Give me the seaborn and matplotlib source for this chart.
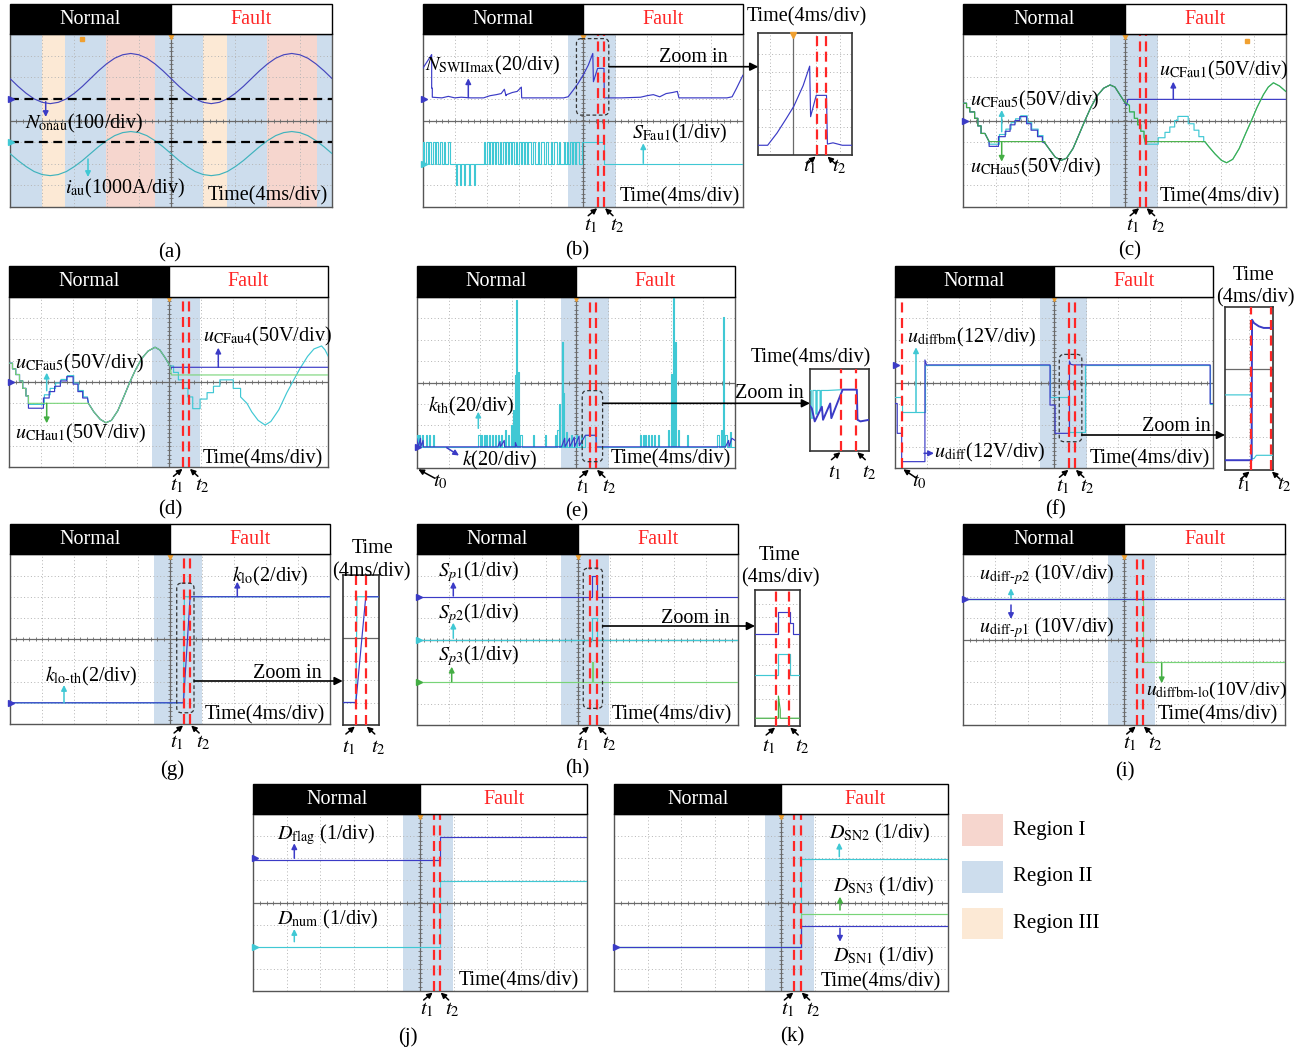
"""
Oscilloscope waveforms (a)-(k): normal / fault transition with zoom insets
"""

import numpy as np
import matplotlib
matplotlib.use('Agg')
import matplotlib.pyplot as plt
import seaborn as sns
from matplotlib.patches import Rectangle, FancyBboxPatch

W, H = 1313, 1053
FS = 14.5

BLUE = '#3b3bc6'
CYAN = '#40c8d4'
GREEN = '#44ae44'
LGREEN = '#78d478'
RED = '#ff2626'
REGION_COLORS = {'I': '#f6d6ce', 'II': '#cddded', 'III': '#fce9d5'}

# ------------------------------------------------------------------
# Data, in scope divisions (x: 0..10 div, y: -4..4 div); insets 0..1
# ------------------------------------------------------------------
# (a)
a_t = np.linspace(0, 10, 41)
a_nonau = [1.94, 1.58, 1.26, 1.00, 0.84, 0.78, 0.84, 1.00, 1.26, 1.58,
           1.94, 2.30, 2.62, 2.88, 3.04, 3.10, 3.04, 2.88, 2.62, 2.30,
           1.94, 1.58, 1.26, 1.00, 0.84, 0.78, 0.84, 1.00, 1.26, 1.58,
           1.94, 2.30, 2.62, 2.88, 3.04, 3.10, 3.04, 2.88, 2.62, 2.30, 1.94]
a_iau = [-1.53, -1.85, -2.13, -2.36, -2.50, -2.55, -2.50, -2.36, -2.13, -1.85,
         -1.53, -1.21, -0.93, -0.70, -0.56, -0.51, -0.56, -0.70, -0.93, -1.21,
         -1.53, -1.85, -2.13, -2.36, -2.50, -2.55, -2.50, -2.36, -2.13, -1.85,
         -1.53, -1.21, -0.93, -0.70, -0.56, -0.51, -0.56, -0.70, -0.93, -1.21, -1.53]
a_ref = [1.0, -1.0]
a_reg_start = [0, 0.98, 1.71, 2.98, 4.5, 6.0, 6.74, 7.98, 9.53]
a_reg_end = [0.98, 1.71, 2.98, 4.5, 6.0, 6.74, 7.98, 9.53, 10]
a_reg_kind = ['II', 'III', 'II', 'I', 'II', 'III', 'II', 'I', 'II']

# (b)
b_band, b_t = (4.54, 6.04), (5.48, 5.66)
b_nswii = [(0.0, 2.41), (0.28, 3.06), (0.28, 1.5), (0.30, 1.5), (0.30, 1.08), (0.6, 1.05),
           (0.8, 1.12), (1.0, 1.05), (1.2, 1.08), (1.5, 1.05), (1.9, 1.05), (2.1, 1.15),
           (2.3, 1.2), (2.45, 1.25), (2.55, 1.45), (2.6, 1.15), (2.62, 1.2), (2.8, 1.3),
           (2.95, 1.35), (3.08, 1.55), (3.09, 1.05), (3.5, 1.05), (4.0, 1.05), (4.4, 1.05),
           (4.54, 1.10), (4.70, 1.41), (4.85, 1.72), (5.01, 2.11), (5.17, 2.57), (5.31, 3.11),
           (5.33, 1.8), (5.46, 2.42), (5.66, 2.42), (5.67, 1.05), (6.2, 1.05), (6.8, 1.08),
           (7.0, 1.15), (7.2, 1.2), (7.4, 1.1), (7.6, 1.25), (7.8, 1.3), (7.95, 1.35),
           (8.0, 1.05), (8.5, 1.05), (9.0, 1.05), (9.5, 1.05), (9.66, 1.1), (9.8, 1.5), (10.0, 2.11)]
b_sfau_start = [0.0, 0.1, 0.2, 0.32, 0.42, 0.55, 0.65, 0.78, 1.9, 2.0, 2.1, 2.2,
                2.3, 2.42, 2.5, 2.6, 2.7, 2.8, 2.9, 3.0, 3.1, 3.2, 3.3, 3.45,
                3.6, 3.7, 3.85, 4.0, 4.1, 4.25, 4.4, 4.5, 4.6, 4.7, 4.8, 4.97]
b_sfau_end = [0.05, 0.15, 0.26, 0.37, 0.48, 0.6, 0.7, 0.85, 1.95, 2.06, 2.15, 2.26,
              2.36, 2.46, 2.56, 2.66, 2.75, 2.86, 2.95, 3.06, 3.15, 3.26, 3.38, 3.52,
              3.64, 3.78, 3.9, 4.05, 4.18, 4.3, 4.45, 4.55, 4.65, 4.75, 4.88, 5.65]
b_sfau_dip = [1.03, 1.17, 1.29, 1.45, 1.6]
bz_nswii = [(0.0, 0.08), (0.1, 0.08), (0.2, 0.18), (0.3, 0.30), (0.38, 0.40), (0.48, 0.57),
            (0.55, 0.73), (0.56, 0.315), (0.62, 0.49), (0.73, 0.49), (0.74, 0.09),
            (0.8, 0.10), (0.9, 0.08), (1.0, 0.08)]
bz_t = (0.625, 0.73)

# (c)
c_band, c_t = (4.55, 6.02), (5.48, 5.65)
c_pre = [(0, 0.8), (0.1, 0.8), (0.1, 0.6), (0.2, 0.6), (0.2, 0.4), (0.35, 0.4), (0.35, 0.1),
         (0.45, 0.1), (0.45, -0.25), (0.55, -0.25), (0.55, -0.6), (0.67, -0.6)]
c_green_mid = [(0.8, -0.98), (2.53, -0.98)]
c_blue_mid = [(0.8, -0.98), (0.8, -1.2), (1.09, -1.2), (1.09, -0.75), (1.3, -0.75), (1.3, -0.5),
              (1.45, -0.5), (1.45, -0.2), (1.6, -0.2), (1.6, 0.0), (1.75, 0.0), (1.75, 0.18),
              (1.96, 0.18), (1.96, -0.15), (2.1, -0.15), (2.1, -0.45), (2.3, -0.45),
              (2.3, -0.75), (2.45, -0.75), (2.45, -1.0), (2.53, -1.05)]
c_cyan_mid = [(0.8, -0.98), (0.8, -1.1), (1.12, -1.1), (1.12, -0.65), (1.32, -0.65), (1.32, -0.4),
              (1.48, -0.4), (1.48, -0.1), (1.62, -0.1), (1.62, 0.08), (1.78, 0.08), (1.78, 0.22),
              (1.98, 0.22), (1.98, -0.1), (2.12, -0.1), (2.12, -0.4), (2.32, -0.4),
              (2.32, -0.7), (2.47, -0.7), (2.47, -0.95), (2.53, -1.05)]
c_sine1 = [(2.53, -1.05), (2.7, -1.4), (2.85, -1.7), (3.03, -1.85), (3.2, -1.75), (3.4, -1.3),
           (3.6, -0.6), (3.77, 0.0), (3.95, 0.6), (4.15, 1.15), (4.35, 1.5), (4.55, 1.65),
           (4.7, 1.55), (4.85, 1.2), (5.0, 0.85)]
c_blue_post = [(5.06, 0.7), (5.1, 0.98), (10, 0.98)]
c_fall = [(5.15, 0.7), (5.15, 0.4), (5.3, 0.4), (5.3, 0.1), (5.4, 0.1), (5.4, -0.2), (5.5, -0.2),
          (5.5, -0.5), (5.6, -0.5), (5.6, -0.75), (5.63, -0.98)]
c_green_hold = [(7.49, -0.98)]
c_cyan_stairs = [(5.63, -1.1), (6.04, -1.1), (6.04, -0.8), (6.25, -0.8), (6.25, -0.55),
                 (6.4, -0.55), (6.4, -0.3), (6.55, -0.3), (6.55, 0.0), (6.65, 0.0), (6.65, 0.19),
                 (6.97, 0.19), (6.97, -0.15), (7.15, -0.15), (7.15, -0.45), (7.3, -0.45),
                 (7.3, -0.75), (7.45, -0.75), (7.45, -0.98), (7.49, -1.0)]
c_sine2 = [(7.6, -1.2), (7.8, -1.55), (8.0, -1.85), (8.16, -1.96), (8.35, -1.8), (8.55, -1.3),
           (8.75, -0.6), (8.93, 0.0), (9.1, 0.6), (9.3, 1.2), (9.45, 1.55), (9.61, 1.75),
           (9.8, 1.6), (10, 1.34)]

# (d)
d_band, d_t = (4.48, 5.98), (5.46, 5.63)
d_pre = [(0, 0.88), (0.1, 0.88), (0.1, 0.62), (0.2, 0.62), (0.2, 0.35), (0.32, 0.35), (0.32, 0.05),
         (0.42, 0.05), (0.42, -0.3), (0.52, -0.3), (0.52, -0.65), (0.6, -0.65)]
d_green_mid = [(0.6, -1.0), (2.48, -1.0)]
d_blue_mid = [(0.6, -1.23), (1.07, -1.23), (1.07, -0.75), (1.25, -0.75), (1.25, -0.45), (1.42, -0.45),
              (1.42, -0.2), (1.6, -0.2), (1.6, 0.05), (1.8, 0.05), (1.8, 0.25), (2.0, 0.25),
              (2.0, -0.1), (2.15, -0.1), (2.15, -0.45), (2.3, -0.45), (2.3, -0.75), (2.45, -0.75),
              (2.48, -1.0)]
d_cyan_mid = [(0.6, -1.05), (1.1, -1.05), (1.1, -0.6), (1.28, -0.6), (1.28, -0.3), (1.45, -0.3),
              (1.45, -0.05), (1.62, -0.05), (1.62, 0.12), (1.82, 0.12), (1.82, 0.3), (2.02, 0.3),
              (2.02, -0.05), (2.17, -0.05), (2.17, -0.4), (2.32, -0.4), (2.32, -0.7), (2.45, -0.7),
              (2.48, -1.0)]
d_sine = [(2.48, -1.0), (2.65, -1.4), (2.85, -1.75), (3.03, -1.91), (3.2, -1.8), (3.4, -1.35),
          (3.6, -0.65), (3.78, 0.0), (3.95, 0.55), (4.15, 1.1), (4.35, 1.45), (4.57, 1.63),
          (4.72, 1.5), (4.88, 1.15), (5.04, 0.75)]
d_blue_post = [(5.06, 0.6), (5.08, 0.69), (10, 0.69)]
d_green_post = [(5.08, 0.33), (10, 0.33)]
d_cyan_post = [(5.15, 0.75), (5.15, 0.45), (5.3, 0.45), (5.3, 0.1), (5.45, 0.1), (5.45, -0.3),
               (5.6, -0.3), (5.6, -0.7), (5.75, -0.7), (5.75, -1.25), (5.98, -1.25), (5.98, -0.8),
               (6.2, -0.8), (6.2, -0.5), (6.4, -0.5), (6.4, -0.2), (6.6, -0.2), (6.6, 0.1),
               (7.02, 0.1), (7.02, -0.3), (7.25, -0.3), (7.25, -0.7), (7.45, -1.0), (7.6, -1.4),
               (7.8, -1.8), (8.02, -2.02), (8.2, -1.85), (8.45, -1.3), (8.7, -0.5), (8.9, 0.05),
               (9.1, 0.6), (9.35, 1.2), (9.55, 1.55), (9.79, 1.69), (9.9, 1.5), (10, 1.2)]

# (e)
e_band, e_t = (4.53, 6.04), (5.44, 5.63)
e_k = [(0, -2.6), (0.05, -3.0), (0.12, -2.6), (0.13, -3.0), (0.2, -2.7), (0.21, -3.0),
       (2.55, -3.0), (2.62, -2.75), (2.63, -3.0), (2.75, -2.7), (2.76, -3.0), (3.1, -3.0),
       (3.1, -2.8), (3.15, -3.0), (4.55, -3.0), (4.65, -2.6), (4.66, -3.0), (4.8, -2.6),
       (4.81, -3.0), (4.95, -2.55), (4.96, -3.0), (5.1, -2.5), (5.11, -2.95), (5.3, -2.46),
       (5.63, -2.46), (5.64, -3.0), (9.7, -3.0), (9.8, -2.7), (9.81, -3.0), (9.9, -2.6),
       (10, -2.7)]
e_kth_x = [0.0, 0.08, 0.16, 0.28, 0.38, 0.5,
           1.94, 2.02, 2.1, 2.18, 2.27, 2.36, 2.45, 2.55, 2.66, 2.76, 2.86, 2.95,
           3.02, 3.08, 3.12, 3.18, 3.26,
           3.66, 4.03,
           4.34, 4.42, 4.48, 4.55, 4.6, 4.7, 4.85, 5.0, 5.15,
           7.02, 7.1, 7.18, 7.27, 7.36, 7.45, 7.59,
           7.9, 8.0, 8.06, 8.12, 8.2,
           8.48,
           9.45, 9.55, 9.63, 9.7, 9.84]
e_kth_top = [-2.46, -2.46, -2.46, -2.46, -2.46, -2.46,
             -2.46, -2.46, -2.46, -2.46, -2.46, -2.46, -2.46, -2.46, -2.46, -2.2, -2.46, -2.0,
             -1.3, 0.35, 3.85, 0.5, -2.46,
             -2.46, -2.46,
             -2.46, -2.2, -1.0, 1.9, -0.5, -2.3, -2.46, -2.46, -2.46,
             -2.46, -2.46, -2.46, -2.46, -2.46, -2.46, -2.46,
             -2.2, 0.4, 3.93, 1.9, -2.2,
             -2.46,
             -2.46, -2.2, 3.07, -2.46, -2.3]
e_kth_hold = (5.3, 5.63, -2.46)
ez_k = [(0, 0.55), (0.03, 0.52), (0.08, 0.36), (0.2, 0.54), (0.22, 0.38), (0.34, 0.58),
        (0.36, 0.40), (0.55, 0.75), (0.79, 0.75), (0.80, 0.38), (0.85, 0.36), (1.0, 0.38)]
ez_kth = [(0, 0.74), (0.02, 0.74), (0.02, 0.4), (0.05, 0.4), (0.05, 0.74), (0.1, 0.74),
          (0.1, 0.45), (0.12, 0.45), (0.12, 0.74), (0.17, 0.74), (0.17, 0.5), (0.19, 0.5),
          (0.19, 0.74), (0.3, 0.74), (0.55, 0.75)]
ez_t = (0.53, 0.78)

# (f)
f_band, f_t, f_t0 = (4.56, 6.02), (5.48, 5.65), 0.23
f_udiff = [(0, -0.98), (0.07, -0.98), (0.07, -2.37), (0.21, -2.37), (0.21, -3.69), (0.94, -3.69),
           (0.94, 1.05), (0.99, 0.82), (4.87, 0.82), (4.87, -1.05), (5.03, -1.05), (5.03, -2.37),
           (5.48, -2.37), (5.48, 1.0), (5.52, 0.85), (5.6, 0.82), (9.9, 0.82), (9.9, -0.98),
           (10, -0.98)]
f_udiffbm = [(0, -0.66), (0.21, -0.66), (0.21, -1.36), (0.94, -1.36), (0.94, 0.82), (4.87, 0.82),
             (4.87, -0.66), (5.48, -0.66), (5.48, -2.3), (5.97, -2.3), (5.97, 0.82), (9.9, 0.82),
             (9.9, -0.98), (10, -0.98)]
fz_udiff = [(0, 0.06), (0.55, 0.06), (0.56, 0.92), (0.6, 0.90), (0.7, 0.88), (0.8, 0.87), (1.0, 0.87)]
fz_udiffbm = [(0, 0.46), (0.55, 0.46), (0.56, 0.07), (0.6, 0.07), (0.65, 0.09), (1.0, 0.09)]
fz_t = (0.53, 0.95)

# (g)
g_band, g_t = (4.5, 6.01), (5.44, 5.63)
g_klo = [(0, -3.0), (5.42, -3.0), (5.63, 2.0), (10, 2.0)]
g_klo_th = [(0, -3.0), (5.42, -3.0), (5.45, 2.0), (10, 2.0)]
gz_klo = [(0, 0.15), (0.36, 0.15), (0.63, 0.855), (1.0, 0.855)]
gz_klo_th = [(0, 0.15), (0.36, 0.15), (0.39, 0.855), (1.0, 0.855)]
gz_t = (0.36, 0.63)

# (h)
h_band, h_t = (4.48, 5.97), (5.38, 5.59)
h_sp1 = [(0, 2.0), (5.43, 2.0), (5.43, 3.0), (5.59, 3.0), (5.59, 2.0), (10, 2.0)]
h_sp2 = [(0, 0.0), (5.43, 0.0), (5.43, 1.0), (5.61, 1.0), (5.61, 0.0), (10, 0.0)]
h_sp3 = [(0, -2.0), (5.43, -2.0), (5.43, -1.03), (5.47, -1.03), (5.47, -2.0), (10, -2.0)]
hz_sp1 = [(0, 0.68), (0.52, 0.68), (0.52, 0.84), (0.78, 0.84), (0.78, 0.76), (0.84, 0.76),
          (0.84, 0.68), (1.0, 0.68)]
hz_sp2 = [(0, 0.375), (0.52, 0.375), (0.52, 0.53), (0.78, 0.53), (0.78, 0.375), (1.0, 0.375)]
hz_sp3 = [(0, 0.057), (0.52, 0.057), (0.52, 0.22), (0.56, 0.12), (0.56, 0.057), (1.0, 0.057)]
hz_t = (0.47, 0.76)

# (i)
i_band, i_t = (4.49, 5.96), (5.39, 5.58)
i_p1 = [(0, 1.9), (10, 1.9)]
i_p2 = [(0, 1.9), (10, 1.9)]
i_bmlo = [(0, 1.9), (5.6, 1.9), (5.6, -1.03), (10, -1.03)]

# (j)
j_band, j_t = (4.49, 5.99), (5.40, 5.58)
j_flag = [(0, 1.92), (5.58, 1.92), (5.58, 2.95), (10, 2.95)]
j_num = [(0, -2.0), (5.58, -2.0), (5.58, 0.99), (10, 0.99)]

# (k)
k_band, k_t = (4.51, 5.99), (5.39, 5.58)
k_sn1 = [(0, -2.03), (5.58, -2.03), (5.58, -1.05), (10, -1.05)]
k_sn2 = [(0, -2.03), (5.58, -2.03), (5.58, 1.97), (10, 1.97)]
k_sn3 = [(0, -2.03), (5.58, -2.03), (5.58, -0.54), (10, -0.54)]

# ------------------------------------------------------------------
# Layout (pixel boxes x0, y0, x1, y1 of the screens)
# ------------------------------------------------------------------
RECT = {
    'a': (10, 34, 332, 207), 'b': (422.7, 34.3, 743, 206.7), 'c': (963.3, 34.3, 1286, 206.7),
    'd': (9.3, 296.7, 328.3, 467.3), 'e': (416.7, 296.7, 735, 468.3), 'f': (895, 296.7, 1213.3, 468.3),
    'g': (10, 554.3, 330, 724), 'h': (417.3, 554.3, 738.3, 725), 'i': (963.3, 554.3, 1285, 725),
    'j': (253.3, 814, 587.3, 991), 'k': (614.3, 814, 948.3, 991),
}
INSET = {
    'b': (758.3, 33.3, 851.7, 155), 'e': (810, 369.3, 869.3, 450.7), 'f': (1225, 306.7, 1273.3, 470),
    'g': (342.7, 575, 379.3, 725), 'h': (755, 590, 800, 726),
}

sns.set_theme(style='white')
plt.rcParams['font.family'] = ['Liberation Serif', 'DejaVu Serif']
plt.rcParams['mathtext.fontset'] = 'stix'

fig = plt.figure(figsize=(W / 100, H / 100), dpi=100)
ov = fig.add_axes([0, 0, 1, 1], zorder=10)
ov.set_xlim(0, W)
ov.set_ylim(H, 0)
ov.axis('off')


def add_px_axes(rect, z=1):
    x0, y0, x1, y1 = rect
    return fig.add_axes([x0 / W, 1 - y1 / H, (x1 - x0) / W, (y1 - y0) / H], zorder=z)


def trace(ax, pts, color, lw=0.85, z=3):
    xs, ys = zip(*pts)
    sns.lineplot(x=list(xs), y=list(ys), ax=ax, color=color, linewidth=lw,
                 estimator=None, sort=False, zorder=z, legend=False)


def pulse_train(starts, ends, levels, base):
    pts = [(0.0, base)]
    for s, e, lv in sorted(zip(starts, ends, levels)):
        pts += [(s, base), (s, lv), (e, lv), (e, base)]
    pts.append((10.0, base))
    return pts


def scope(key, band=None, marks=()):
    ax = add_px_axes(RECT[key])
    ax.set_xlim(0, 10)
    ax.set_ylim(-4, 4)
    if band is not None:
        ax.axvspan(band[0], band[1], color=REGION_COLORS['II'], lw=0, zorder=0)
    for v in range(1, 10):
        if v != 5:
            ax.axvline(v, color='#b4b4b4', lw=0.7, ls=(0, (1, 2.5)), zorder=0.5)
    for h in range(-3, 4):
        if h != 0:
            ax.axhline(h, color='#b4b4b4', lw=0.7, ls=(0, (1, 2.5)), zorder=0.5)
    ax.axvline(5, color='#6a6a6a', lw=0.9, zorder=0.6)
    ax.axhline(0, color='#6a6a6a', lw=0.9, zorder=0.6)
    tk = np.arange(0.2, 10, 0.2)
    ax.plot(tk, np.zeros_like(tk), ls='none', marker='|', ms=3.5, mew=0.6, color='#6a6a6a', zorder=0.6)
    tk = np.arange(-3.8, 4, 0.2)
    ax.plot(np.full_like(tk, 5), tk, ls='none', marker='_', ms=3.5, mew=0.6, color='#6a6a6a', zorder=0.6)
    ax.plot([5], [3.93], marker='v', color='#f0a030', ms=4, zorder=6, clip_on=False)
    for lvl, col in marks:
        ax.plot([0.04], [lvl], marker='>', color=col, ms=5, zorder=6, clip_on=False)
    ax.set_xticks([])
    ax.set_yticks([])
    for sp in ax.spines.values():
        sp.set_color('#555555')
        sp.set_linewidth(1.0)
    # header bar
    x0, y0, x1, y1 = RECT[key]
    mid, hy = (x0 + x1) / 2, y0 - 30.5
    ov.add_patch(Rectangle((x0, hy), mid - x0, 30.5, fc='black', ec='black', lw=1))
    ov.add_patch(Rectangle((mid, hy), x1 - mid, 30.5, fc='white', ec='black', lw=1))
    ov.text((x0 + mid) / 2, hy + 15.5, 'Normal', color='white', ha='center', va='center', fontsize=FS)
    ov.text((mid + x1) / 2, hy + 15.5, 'Fault', color=RED, ha='center', va='center', fontsize=FS)
    return ax


def inset(key, hgrid=(), vgrid=(), hsolid=None, vsolid=None):
    ax = add_px_axes(INSET[key], z=2)
    ax.set_xlim(0, 1)
    ax.set_ylim(0, 1)
    for g in hgrid:
        ax.axhline(g, color='#b4b4b4', lw=0.7, ls=(0, (1, 2.5)), zorder=0.5)
    for g in vgrid:
        ax.axvline(g, color='#b4b4b4', lw=0.7, ls=(0, (1, 2.5)), zorder=0.5)
    if hsolid is not None:
        ax.axhline(hsolid, color='#6a6a6a', lw=0.9, zorder=0.6)
    if vsolid is not None:
        ax.axvline(vsolid, color='#6a6a6a', lw=0.9, zorder=0.6)
    ax.set_xticks([])
    ax.set_yticks([])
    for sp in ax.spines.values():
        sp.set_color('#333333')
        sp.set_linewidth(1.2)
    return ax


def dashes(ax, ts):
    for t in ts:
        ax.axvline(t, color=RED, lw=1.6, ls=(0, (4.5, 2.5)), zorder=7)


def px(rect, xd, yd, xr=(0, 10), yr=(-4, 4)):
    x0, y0, x1, y1 = rect
    return (x0 + (xd - xr[0]) / (xr[1] - xr[0]) * (x1 - x0),
            y1 - (yd - yr[0]) / (yr[1] - yr[0]) * (y1 - y0))


def arrow(x0, y0, x1, y1, color='black', lw=1.1, ms=8):
    ov.annotate('', xy=(x1, y1), xytext=(x0, y0),
                arrowprops=dict(arrowstyle='-|>', color=color, lw=lw, mutation_scale=ms,
                                shrinkA=0, shrinkB=0))


def txt(x, y, s, ha='left', color='black', fs=FS):
    ov.text(x, y, s, ha=ha, va='center', fontsize=fs, color=color)


def tmarks(rect, ts, xr=(0, 10), dy=19):
    yb = rect[3]
    p1 = px(rect, ts[0], 0, xr)[0]
    p2 = px(rect, ts[1], 0, xr)[0]
    arrow(p1 - 10, yb + 9, p1 - 1, yb + 1.5)
    txt(p1 - 7, yb + dy, r'$t_1$', ha='center', fs=15)
    arrow(p2 + 9, yb + 9, p2 + 1, yb + 1.5)
    txt(p2 + 13, yb + dy, r'$t_2$', ha='center', fs=15)


def zoombox(key, xa, xb, ya, yb):
    (px0, py0), (px1, py1) = px(RECT[key], xa, yb), px(RECT[key], xb, ya)
    ov.add_patch(FancyBboxPatch((px0, py0), px1 - px0, py1 - py0,
                                boxstyle='round,pad=0,rounding_size=5', fc='none',
                                ec='#333333', lw=0.9, ls=(0, (3, 2))))


def zoomarrow(x0, x1, y, tx, ty):
    arrow(x0, y, x1, y, lw=1.2, ms=12)
    txt(tx, ty, 'Zoom in', ha='center')


# ---------------- (a) ----------------
ax = scope('a', marks=[(1.0, BLUE), (-1.0, CYAN)])
for s, e, k in zip(a_reg_start, a_reg_end, a_reg_kind):
    ax.axvspan(s, e, color=REGION_COLORS[k], lw=0, zorder=0)
for r in a_ref:
    ax.axhline(r, color='black', lw=1.6, ls=(0, (4, 2.5)), zorder=4)
trace(ax, list(zip(a_t, a_nonau)), '#4646bd')
trace(ax, list(zip(a_t, a_iau)), '#3fb3bd')
ax.plot([2.25], [3.75], marker='s', color='#f0a030', ms=3.5, zorder=6)
arrow(45.7, 101.7, 45.7, 117, BLUE)
txt(25, 123, r'$N_{\mathrm{onau}}$(100/div)')
arrow(88, 159, 88, 177, CYAN)
txt(65, 188, r'$i_{\mathrm{au}}$(1000A/div)')
txt(328, 196, 'Time(4ms/div)', ha='right')

# ---------------- (b) ----------------
ax = scope('b', b_band, marks=[(1.0, BLUE), (-2.0, CYAN)])
sfau = pulse_train(b_sfau_start + b_sfau_dip, b_sfau_end + [d + 0.03 for d in b_sfau_dip],
                   [-1.0] * len(b_sfau_start) + [-3.0] * len(b_sfau_dip), -2.0)
trace(ax, sfau, CYAN, lw=0.8)
trace(ax, b_nswii, BLUE)
dashes(ax, b_t)
tmarks(RECT['b'], b_t)
zoombox('b', 4.80, 5.81, 0.25, 3.8)
zoomarrow(609, 758.3, 66.7, 693.3, 58)
txt(425, 65.7, r'$N_{\mathrm{SWIImax}}$(20/div)')
arrow(468.3, 97.7, 468.3, 78.3, BLUE)
txt(631.7, 133.3, r'$S_{\mathrm{Fau1}}$(1/div)')
arrow(643.3, 163.3, 643.3, 143.3, CYAN)
txt(740, 196.7, 'Time(4ms/div)', ha='right')
axz = inset('b', hgrid=(0.23, 0.38, 0.53, 0.68, 0.83), vgrid=(0.12, 0.62, 0.87), vsolid=0.37)
trace(axz, bz_nswii, BLUE)
dashes(axz, bz_t)
axz.plot([0.37], [0.985], marker='v', color='#f0a030', ms=4, zorder=6, clip_on=False)
txt(806.7, 17, 'Time(4ms/div)', ha='center')
tmarks(INSET['b'], bz_t, xr=(0, 1), dy=12)

# ---------------- (c) ----------------
ax = scope('c', c_band, marks=[(0.0, BLUE)])
trace(ax, c_pre + c_cyan_mid + c_sine1 + c_fall + c_cyan_stairs + c_sine2, CYAN)
trace(ax, c_pre + c_blue_mid + c_sine1 + c_blue_post, BLUE)
trace(ax, c_pre + c_green_mid + c_sine1 + c_fall + c_green_hold + c_sine2, GREEN, lw=0.8)
ax.plot([8.8], [3.7], marker='s', color='#f0a030', ms=3.5, zorder=6)
dashes(ax, c_t)
tmarks(RECT['c'], c_t)
txt(1159, 70.7, r'$u_{\mathrm{CFau1}}$(50V/div)')
arrow(1173.3, 99.3, 1173.3, 81.7, BLUE)
txt(970, 100, r'$u_{\mathrm{CFau5}}$(50V/div)')
arrow(1001.7, 131.7, 1001.7, 110, CYAN)
arrow(1001.7, 141.7, 1001.7, 161.7, GREEN)
txt(970, 167, r'$u_{\mathrm{CHau5}}$(50V/div)')
txt(1280, 196.7, 'Time(4ms/div)', ha='right')

# ---------------- (d) ----------------
ax = scope('d', d_band, marks=[(0.0, BLUE)])
trace(ax, d_pre + d_cyan_mid + d_sine + d_cyan_post, CYAN)
trace(ax, d_pre + d_blue_mid + d_sine + d_blue_post, BLUE)
trace(ax, d_pre + d_green_mid + d_sine + d_green_post, LGREEN, lw=0.8)
dashes(ax, d_t)
tmarks(RECT['d'], d_t)
txt(203.3, 336, r'$u_{\mathrm{CFau4}}$(50V/div)')
arrow(218.3, 367.3, 218.3, 347.7, BLUE)
txt(15, 363.3, r'$u_{\mathrm{CFau5}}$(50V/div)')
arrow(46.7, 390.7, 46.7, 372.7, CYAN)
arrow(46.7, 403.3, 46.7, 423.3, GREEN)
txt(15, 433.3, r'$u_{\mathrm{CHau1}}$(50V/div)')
txt(323.3, 459, 'Time(4ms/div)', ha='right')

# ---------------- (e) ----------------
ax = scope('e', e_band, marks=[(-3.0, BLUE)])
kth = pulse_train(e_kth_x + [e_kth_hold[0]], [x + 0.035 for x in e_kth_x] + [e_kth_hold[1]],
                  e_kth_top + [e_kth_hold[2]], -3.0)
trace(ax, kth, CYAN, lw=0.8)
trace(ax, e_k, BLUE)
dashes(ax, e_t)
tmarks(RECT['e'], e_t)
zoombox('e', 5.2, 5.84, -3.69, -0.38)
zoomarrow(603.3, 810, 403.3, 769, 394)
txt(428.3, 406.7, r'$k_{\mathrm{th}}$(20/div)')
arrow(478.3, 428.3, 478.3, 411.7, CYAN)
arrow(446.7, 447.7, 459, 455.5, BLUE)
txt(461.7, 460, r'$k$(20/div)')
txt(730.7, 459.3, 'Time(4ms/div)', ha='right')
arrow(435, 478.3, 418.3, 469.3)
txt(440, 482, r'$t_0$', ha='center', fs=15)
axz = inset('e')
trace(axz, ez_kth, CYAN)
trace(axz, ez_k, BLUE, lw=1.4)
dashes(axz, ez_t)
txt(811, 358.3, 'Time(4ms/div)', ha='center')
tmarks(INSET['e'], ez_t, xr=(0, 1), dy=22)

# ---------------- (f) ----------------
ax = scope('f', f_band, marks=[(0.82, BLUE)])
trace(ax, f_udiffbm, CYAN)
trace(ax, f_udiff, BLUE)
dashes(ax, f_t + (f_t0,))
tmarks(RECT['f'], f_t)
zoombox('f', 5.16, 5.87, -2.76, 1.31)
zoomarrow(1081.7, 1225, 435, 1176.7, 426.7)
txt(906.7, 337.3, r'$u_{\mathrm{diffbm}}$(12V/div)')
arrow(916, 411.7, 916, 347.3, CYAN)
arrow(924, 453.3, 934, 453.3, BLUE)
txt(934, 452.7, r'$u_{\mathrm{diff}}$(12V/div)')
txt(1210, 459.3, 'Time(4ms/div)', ha='right')
arrow(916.7, 478.3, 903.3, 469.3)
txt(919.3, 482, r'$t_0$', ha='center', fs=15)
axz = inset('f', hgrid=(0.2, 0.4, 0.8), vgrid=(0.5,), hsolid=0.62)
trace(axz, fz_udiffbm, CYAN)
trace(axz, fz_udiff, BLUE, lw=1.4)
dashes(axz, fz_t)
txt(1254, 275, 'Time', ha='center')
txt(1255, 298.3, '(4ms/div)', ha='center')
tmarks(INSET['f'], fz_t, xr=(0, 1), dy=15)

# ---------------- (g) ----------------
ax = scope('g', g_band, marks=[(-3.0, BLUE)])
trace(ax, g_klo_th, CYAN)
trace(ax, g_klo, BLUE)
dashes(ax, g_t)
tmarks(RECT['g'], g_t)
zoombox('g', 5.21, 5.75, -3.47, 2.64)
zoomarrow(194, 342.7, 681, 287.3, 673.3)
txt(231.7, 576, r'$k_{\mathrm{lo}}$(2/div)')
arrow(237.3, 596.7, 237.3, 581.7, BLUE)
txt(45, 676, r'$k_{\mathrm{lo}\text{-}\mathrm{th}}$(2/div)')
arrow(64, 702.7, 64, 685, CYAN)
txt(325, 715, 'Time(4ms/div)', ha='right')
axz = inset('g', hgrid=(0.15, 0.3, 0.43, 0.72, 0.86), hsolid=0.58)
trace(axz, gz_klo_th, CYAN)
trace(axz, gz_klo, BLUE)
dashes(axz, gz_t)
txt(373, 548.3, 'Time', ha='center')
txt(371, 572, '(4ms/div)', ha='center')
tmarks(INSET['g'], gz_t, xr=(0, 1), dy=23)

# ---------------- (h) ----------------
ax = scope('h', h_band, marks=[(2.0, BLUE), (0.0, CYAN), (-2.0, GREEN)])
trace(ax, h_sp3, LGREEN)
trace(ax, h_sp2, CYAN)
trace(ax, h_sp1, BLUE)
dashes(ax, h_t)
tmarks(RECT['h'], h_t)
zoombox('h', 5.17, 5.77, -3.22, 3.35)
zoomarrow(602.7, 755, 626, 695, 618.3)
txt(438.3, 571.7, r'$S_{p\mathrm{1}}$(1/div)')
arrow(453.3, 596, 453.3, 581.7, BLUE)
txt(438.3, 613.3, r'$S_{p\mathrm{2}}$(1/div)')
arrow(453.3, 638.3, 453.3, 622.7, CYAN)
txt(438.3, 656, r'$S_{p\mathrm{3}}$(1/div)')
arrow(451.7, 681.7, 451.7, 666.7, GREEN)
txt(731.7, 715, 'Time(4ms/div)', ha='right')
axz = inset('h', hgrid=(0.2, 0.3, 0.45, 0.6, 0.8, 0.9))
trace(axz, hz_sp3, GREEN)
trace(axz, hz_sp2, CYAN)
trace(axz, hz_sp1, BLUE)
dashes(axz, hz_t)
txt(780, 555, 'Time', ha='center')
txt(780, 578.3, '(4ms/div)', ha='center')
tmarks(INSET['h'], hz_t, xr=(0, 1), dy=21)

# ---------------- (i) ----------------
ax = scope('i', i_band, marks=[(1.9, BLUE)])
trace(ax, i_p2, CYAN)
trace(ax, i_bmlo, LGREEN)
trace(ax, i_p1, BLUE)
dashes(ax, i_t)
tmarks(RECT['i'], i_t)
txt(979, 575, r'$u_{\mathrm{diff}\text{-}p\mathrm{2}}$ (10V/div)')
arrow(1011, 598.3, 1011, 588.3, CYAN)
arrow(1011, 605, 1011, 619, BLUE)
txt(979, 627.3, r'$u_{\mathrm{diff}\text{-}p\mathrm{1}}$ (10V/div)')
arrow(1161.7, 663.3, 1161.7, 683.3, GREEN)
txt(1146, 690, r'$u_{\mathrm{diffbm}\text{-}\mathrm{lo}}$(10V/div)', fs=14)
txt(1277.7, 715, 'Time(4ms/div)', ha='right')

# ---------------- (j) ----------------
ax = scope('j', j_band, marks=[(2.0, BLUE), (-2.0, CYAN)])
trace(ax, j_num, CYAN)
trace(ax, j_flag, BLUE)
dashes(ax, j_t)
tmarks(RECT['j'], j_t)
txt(276.7, 835, r'$D_{\mathrm{flag}}$ (1/div)')
arrow(294.3, 858.3, 294.3, 843.3, BLUE)
txt(276.7, 919, r'$D_{\mathrm{num}}$ (1/div)')
arrow(294.3, 941.7, 294.3, 929, CYAN)
txt(579.3, 981, 'Time(4ms/div)', ha='right')

# ---------------- (k) ----------------
ax = scope('k', k_band, marks=[(-2.0, BLUE)])
trace(ax, k_sn2, CYAN)
trace(ax, k_sn3, LGREEN)
trace(ax, k_sn1, BLUE)
dashes(ax, k_t)
tmarks(RECT['k'], k_t)
txt(829, 833.3, r'$D_{\mathrm{SN2}}$ (1/div)')
arrow(839.3, 856.7, 839.3, 842.7, CYAN)
txt(833.3, 886.7, r'$D_{\mathrm{SN3}}$ (1/div)')
arrow(840, 910, 840, 896.7, GREEN)
arrow(840, 928.3, 840, 941.7, BLUE)
txt(833.3, 956.7, r'$D_{\mathrm{SN1}}$ (1/div)')
txt(941, 981.7, 'Time(4ms/div)', ha='right')

# ---------------- captions & region legend ----------------
captions = {'(a)': (170, 253), '(b)': (577, 251), '(c)': (1130, 251), '(d)': (170, 510),
            '(e)': (577, 512), '(f)': (1055, 510), '(g)': (172, 770), '(h)': (577, 769),
            '(i)': (1125, 772), '(j)': (408, 1037), '(k)': (792, 1037)}
for s, (x, y) in captions.items():
    txt(x, y, s, ha='center', fs=15)

for y0, kind, name in [(814, 'I', 'Region I'), (861, 'II', 'Region II'), (907.7, 'III', 'Region III')]:
    ov.add_patch(Rectangle((962.3, y0), 41, 31.5, fc=REGION_COLORS[kind], ec='none'))
    txt(1013, y0 + 16, name, fs=15)

fig.savefig('out.png', dpi=100)
